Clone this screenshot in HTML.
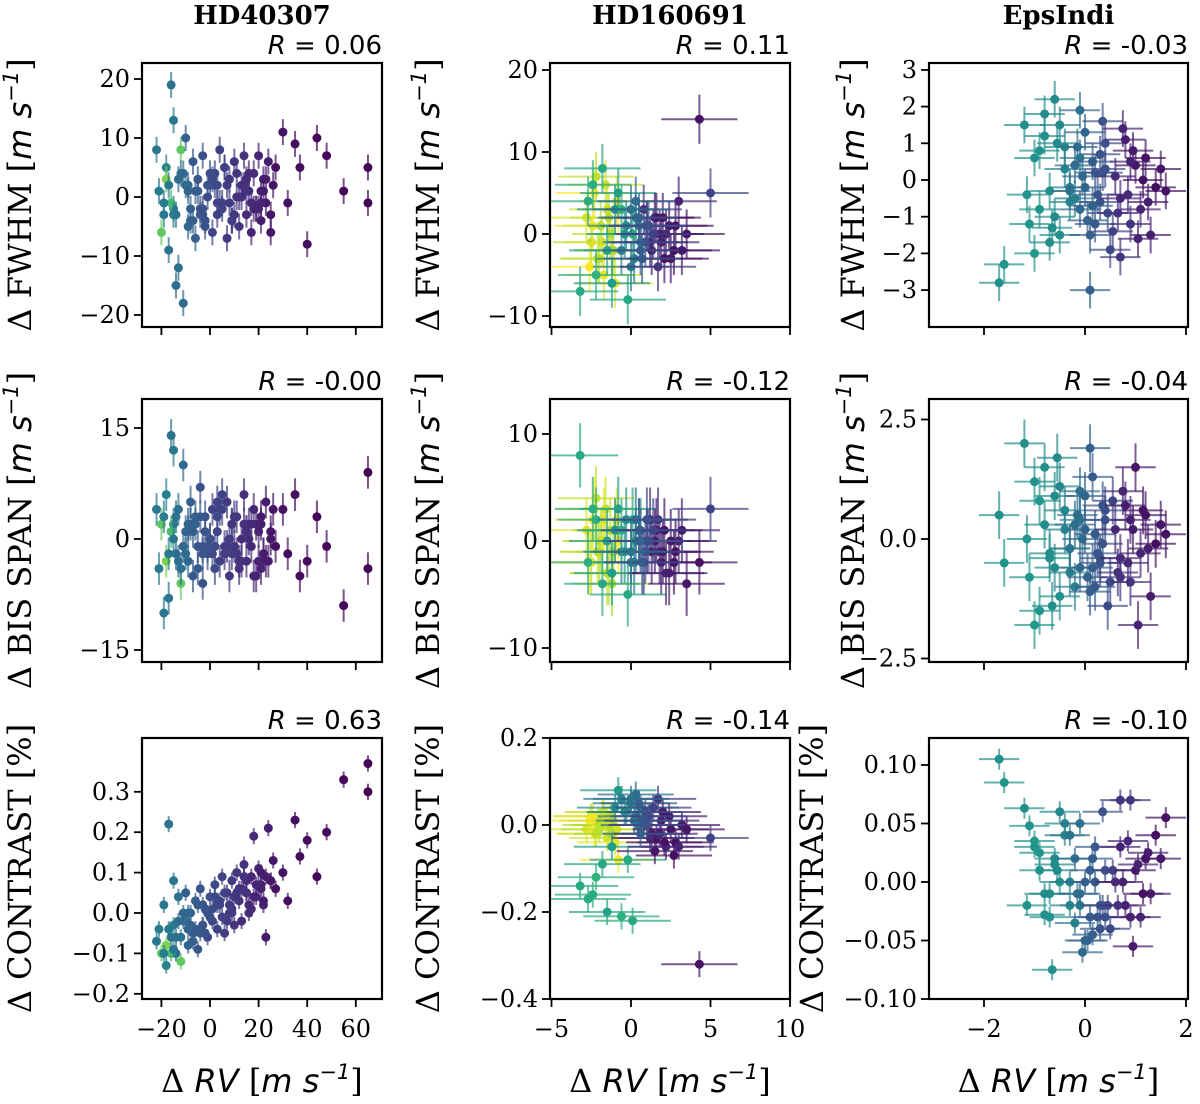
<!DOCTYPE html>
<html><head><meta charset="utf-8">
<style>
html,body{margin:0;padding:0;background:#fff;}
svg{display:block;}
.tk{font-family:"DejaVu Serif","Liberation Serif",serif;font-size:24px;fill:#000;}
.lab{font-family:"DejaVu Serif","Liberation Serif",serif;font-size:32px;fill:#000;}
.mt{font-family:"DejaVu Sans","Liberation Sans",sans-serif;font-style:italic;}
.rl{font-family:"DejaVu Sans","Liberation Sans",sans-serif;font-size:26px;fill:#000;}
.ttl{font-family:"DejaVu Serif","Liberation Serif",serif;font-size:26px;font-weight:bold;fill:#000;}
</style></head>
<body>
<svg id="fig" width="1200" height="1104" viewBox="0 0 1200 1104" xmlns="http://www.w3.org/2000/svg"></svg>
<script>
// ---- HD40307 ----
const A_rv=[-22,-21,-20,-19,-18,-17,-16,-15,-14,-13,-12,-11,-10,-9,-8,-7,-6,-5,-4,-3,-2,-1,0,1,2,3,4,5,6,7,8,9,10,11,12,13,14,15,16,17,18,19,20,21,22,23,24,25,26,27,
-18,-15,-12,-9,-6,-3,0,3,6,9,12,15,18,21,-16,-10,-4,2,8,14,20,30,32,35,37,40,44,48,55,65,65,
-17,-14,-11,-8,-5,-2,1,4,7,10,13,16,19,22,25,-19,-13,-7,-1,5,11,17,23,-15,-9,-3,3,9,15,21];
const A_fwhm=[8,1,-6,-3,5,-9,19,13,-15,-12,8,-18,10,2,-4,6,-7,3,-2,7,-5,0,4,-6,2,-3,8,-1,5,-7,3,-4,6,0,-5,2,7,-3,1,-6,4,-2,7,-4,3,-1,6,-6,2,5,
3,-2,4,-5,1,-3,2,-1,5,-4,0,3,-2,1,-1,2,-3,4,-1,2,-2,11,-1,9,5,-8,10,7,1,5,-1,
2,-3,4,-2,1,-4,3,-1,2,-3,0,4,-2,1,-3,-1,3,-4,2,-2,4,-1,3,-3,1,-2,2,-4,1,-1];
const A_bis=[4,-4,2,-10,6,-8,14,12,-2,4,-6,10,1,-3,5,-5,2,-1,7,-6,3,-2,0,4,-4,1,-3,6,-2,5,-5,2,-1,3,-4,0,6,-3,2,-1,4,-5,1,3,-2,5,-3,0,4,-1,
-3,2,-4,1,3,-2,0,5,-1,2,-3,1,-5,2,1,-2,3,-1,0,2,-3,4,-2,6,-5,-3,3,-1,-9,9,-4,
-2,3,-1,2,-4,1,-2,4,-1,3,-3,0,2,-2,1,3,-3,1,-1,4,-2,2,-3,0,2,-1,3,-2,1,-4];
const A_con=[-0.07,-0.04,-0.1,0.02,-0.13,0.22,-0.06,0.08,-0.1,0.04,-0.12,-0.02,0.05,-0.08,0.0,-0.05,0.03,-0.09,0.06,-0.03,0.01,-0.06,0.04,-0.02,0.07,-0.04,0.02,0.09,-0.05,0.05,0.0,0.08,-0.03,0.1,0.03,-0.02,0.12,0.05,0.0,0.09,0.19,0.04,0.11,0.07,0.02,-0.06,0.21,0.08,0.13,0.06,
-0.08,-0.03,-0.06,0.0,-0.04,0.02,-0.01,0.03,0.05,0.01,0.06,0.08,0.04,0.1,-0.1,-0.02,-0.05,0.04,0.02,0.09,0.07,0.1,0.03,0.23,0.14,0.18,0.09,0.2,0.33,0.37,0.3,
-0.04,-0.06,0.0,-0.03,0.02,-0.05,0.01,0.03,-0.02,0.04,0.06,0.02,0.07,0.03,0.08,-0.1,-0.02,-0.07,0.0,-0.01,0.05,0.01,0.09,-0.09,-0.04,-0.03,0.02,0.0,0.05,0.06];
const A_c=[0.4,0.42,0.75,0.4,0.45,0.38,0.38,0.4,0.35,0.36,0.75,0.35,0.3,0.33,0.3,0.28,0.3,0.27,0.25,0.26,0.25,0.22,0.24,0.2,0.22,0.2,0.19,0.2,0.18,0.17,0.16,0.17,0.15,0.16,0.15,0.13,0.14,0.12,0.13,0.1,0.12,0.1,0.1,0.08,0.09,0.07,0.08,0.06,0.06,0.05,
0.8,0.42,0.38,0.33,0.3,0.26,0.24,0.2,0.19,0.16,0.14,0.12,0.1,0.08,0.7,0.36,0.28,0.22,0.18,0.14,0.1,0.05,0.04,0.04,0.03,0.03,0.02,0.02,0.02,0.01,0.01,
0.4,0.37,0.33,0.3,0.28,0.25,0.23,0.2,0.18,0.16,0.14,0.12,0.1,0.08,0.06,0.42,0.35,0.3,0.25,0.2,0.16,0.12,0.08,0.4,0.32,0.26,0.22,0.18,0.14,0.1];
// ---- HD160691 ----
const B_rv=[-2.8,-2.5,-2.3,-2.1,-1.9,-1.7,-1.5,-1.3,-1.1,-0.9,-2.6,-2.2,-1.8,-1.4,-1.0,-2.4,-2.0,-1.6,-1.2,-0.8,
-1.0,-0.6,-0.3,0.0,0.3,0.6,-0.8,-0.4,0.2,0.5,-3.2,-2.7,-2.2,-1.8,-1.5,-2.4,-1.2,-0.6,-0.2,0.1,
1.0,1.3,1.6,1.9,2.2,2.5,2.8,3.2,0.8,1.2,1.5,1.8,2.1,2.4,2.7,3.0,3.5,1.7,2.0,4.3,
0.5,0.9,1.1,0.3,0.7,1.4,0.0,0.6,1.0,5.0];
const B_fwhm=[2,-1,5,-3,1,-5,3,0,-2,4,-4,7,-1,2,-6,1,-3,6,-2,3,
3,-2,1,-4,2,-1,5,0,-3,1,-7,4,-5,8,-2,6,-6,3,-8,0,
1,-2,2,-1,0,-3,1,-2,3,-1,2,0,-3,1,-2,4,0,-4,2,14,
2,-1,1,4,-3,0,3,-2,1,5];
const B_bis=[1,-2,3,-1,0,2,-3,1,-1,2,-2,4,0,-3,1,2,-1,3,-4,0,
1,-1,2,-2,0,1,3,-1,-2,1,8,-2,2,-4,0,3,-3,1,-5,2,
0,-1,1,-2,-3,0,-1,1,-2,2,0,-1,1,-3,-2,0,-4,2,-1,-2,
1,-1,0,2,-2,1,-1,0,2,3];
const B_con=[-0.01,0.02,-0.02,0.01,0.0,0.03,-0.03,0.02,0.0,-0.01,0.01,-0.02,0.03,0.0,-0.04,0.02,-0.01,0.01,-0.02,-0.08,
0.04,0.06,0.03,0.05,0.02,0.04,0.08,0.03,0.01,0.0,-0.14,-0.17,-0.12,-0.09,-0.2,-0.16,-0.05,-0.21,-0.08,-0.22,
0.0,-0.02,-0.03,0.01,-0.05,-0.01,-0.04,0.0,0.01,-0.03,-0.06,-0.02,-0.04,0.02,-0.07,-0.05,-0.01,0.06,0.03,-0.32,
0.05,0.03,0.02,0.07,0.01,0.04,0.06,-0.02,0.0,-0.03];
const B_c=[0.95,0.9,1,0.92,0.88,0.97,0.93,0.9,0.86,0.95,1,0.91,0.94,0.89,0.96,0.98,0.9,0.93,0.87,1,
0.5,0.45,0.48,0.42,0.4,0.45,0.55,0.5,0.42,0.4,0.6,0.62,0.65,0.6,0.58,0.62,0.55,0.63,0.6,0.6,
0.1,0.08,0.05,0.1,0.12,0.06,0.04,0.08,0.15,0.12,0.06,0.1,0.05,0.08,0.04,0.1,0.06,0.15,0.07,0.05,
0.3,0.25,0.22,0.35,0.28,0.2,0.38,0.3,0.25,0.2];
// ---- EpsIndi ----
const C_rv=[-1.7,-1.6,-1.2,-1.1,-1.0,-0.9,-0.8,-0.7,-0.6,-0.5,-0.4,-0.3,-1.0,-0.8,-0.6,-0.4,-0.2,-0.9,-0.7,-0.5,-0.3,-0.1,-0.65,-1.15,-0.55,
-0.2,-0.1,0.0,0.1,0.2,0.3,0.4,0.5,-0.3,-0.15,0.05,0.15,0.25,0.35,0.45,-0.05,0.1,0.3,0.0,0.2,0.4,-0.1,0.15,0.35,0.55,
0.6,0.7,0.8,0.9,1.0,1.1,1.2,1.3,1.4,1.5,0.65,0.75,0.85,0.95,1.05,1.15,1.25,0.7,0.9,1.6];
const C_fwhm=[-2.8,-2.3,1.5,-1.2,0.6,-0.8,1.8,-0.3,2.2,-1.5,0.9,-0.6,-2.0,1.2,-1.0,0.3,-0.5,0.8,-1.7,1.5,-0.2,0.6,-1.3,-0.4,1.0,
0.4,-0.8,1.3,-1.5,0.2,-0.6,1.0,-1.9,-0.3,0.9,-1.1,0.5,-0.4,1.6,-0.9,0.1,-3.0,0.7,-0.2,-1.2,0.3,1.9,-0.7,0.2,-1.4,
0.1,-0.5,1.1,-1.2,0.4,-0.8,0.6,-1.5,-0.2,0.3,-0.9,1.4,-0.4,0.8,-1.6,0.0,-0.6,-2.1,0.5,-0.3];
const C_bis=[0.5,-0.5,2.0,-0.8,1.2,-1.5,0.3,-0.4,0.9,-1.2,0.6,-0.2,-1.8,1.5,-0.6,0.2,-1.0,0.8,-0.3,1.1,-0.7,0.4,-1.4,0.0,1.7,
0.3,-0.6,0.9,-1.1,0.1,-0.4,0.6,-0.9,-0.2,0.5,-0.8,1.3,-0.3,0.7,-1.4,0.0,1.9,-0.5,0.2,-1.0,0.4,1.0,-0.6,-0.1,0.8,
0.2,-0.4,0.7,-0.9,1.5,-0.3,0.5,-1.2,-0.1,0.3,-0.7,1.0,-0.5,0.2,-1.8,0.6,-0.2,-0.8,0.4,0.1];
const C_con=[0.105,0.085,0.063,0.048,0.03,0.01,-0.01,-0.03,0.02,0.0,0.04,-0.02,0.035,-0.028,0.015,0.05,-0.035,0.025,-0.01,0.06,0.0,-0.02,-0.075,-0.02,0.01,
0.02,-0.01,0.0,-0.03,0.03,-0.02,0.01,-0.04,0.04,-0.01,-0.05,0.02,-0.03,0.06,-0.02,-0.06,0.01,-0.04,-0.05,0.0,-0.03,0.05,-0.045,-0.02,0.01,
0.0,0.03,-0.02,0.07,0.01,-0.03,0.02,-0.01,0.04,0.02,-0.02,0.0,0.035,-0.055,0.015,-0.01,0.025,0.07,-0.03,0.055];
const C_c=[0.5,0.52,0.5,0.52,0.5,0.52,0.48,0.5,0.48,0.5,0.46,0.47,0.53,0.5,0.48,0.46,0.43,0.52,0.49,0.47,0.44,0.41,0.5,0.52,0.48,
0.36,0.34,0.32,0.3,0.28,0.26,0.24,0.22,0.38,0.35,0.31,0.29,0.27,0.25,0.23,0.34,0.3,0.26,0.32,0.28,0.24,0.36,0.3,0.25,0.2,
0.12,0.1,0.08,0.15,0.06,0.1,0.05,0.08,0.04,0.06,0.14,0.1,0.12,0.07,0.1,0.05,0.08,0.15,0.09,0.05];
const titles=["HD40307","HD160691","EpsIndi"];
const rVals=[["0.06","-0.00","0.63"],["0.11","-0.12","-0.14"],["-0.03","-0.04","-0.10"]];
const xTicks=[[-20,0,20,40,60],[-5,0,5,10],[-2,0,2]];
const yTicks=[[[20,10,0,-10,-20],[15,0,-15],[0.3,0.2,0.1,0.0,-0.1,-0.2]],
              [[20,10,0,-10],[10,0,-10],[0.2,0.0,-0.2,-0.4]],
              [[3,2,1,0,-1,-2,-3],[2.5,0.0,-2.5],[0.10,0.05,0.00,-0.05,-0.10]]];
const yTickFmt=[[0,0,1],[0,0,1],[0,1,2]];

const NS="http://www.w3.org/2000/svg";
const svg=document.getElementById('fig');
function el(t,a,p){const e=document.createElementNS(NS,t);for(const k in a)e.setAttribute(k,a[k]);(p||svg).appendChild(e);return e;}
const VIR=[[68,1,84],[72,40,120],[62,74,137],[49,104,142],[38,130,142],[31,158,137],[53,183,121],[110,206,88],[181,222,43],[253,231,37]];
function vir(t){t=Math.max(0,Math.min(1,t))*(VIR.length-1);const i=Math.min(VIR.length-2,Math.floor(t)),f=t-i;const a=VIR[i],b=VIR[i+1];return `rgb(${Math.round(a[0]+(b[0]-a[0])*f)},${Math.round(a[1]+(b[1]-a[1])*f)},${Math.round(a[2]+(b[2]-a[2])*f)})`;}

const cols=[{x0:142,x1:382,c:210,s:2.43,rv:A_rv,ys:[A_fwhm,A_bis,A_con],col:A_c,ex:0,ey:[2.2,2.2,0.02],lx:[20,20,20]},
            {x0:550,x1:790,c:631,s:15.9,rv:B_rv,ys:[B_fwhm,B_bis,B_con],col:B_c,ex:2.4,ey:[3,3,0.03],lx:428,lx:[428,428,428]},
            {x0:929,x1:1188,c:1085,s:50.5,rv:C_rv,ys:[C_fwhm,C_bis,C_con],col:C_c,ex:0.4,ey:[0.5,0.5,0.009],lx:[853,853,812]}];
const rows=[{y0:63,y1:327},{y0:399,y1:662},{y0:738,y1:999}];
const ymaps=[[{c:197,s:5.9},{c:539,s:7.4},{c:913,s:404}],
             [{c:234,s:8.2},{c:541,s:10.7},{c:825,s:435}],
             [{c:180,s:36.7},{c:539,s:47.8},{c:882,s:1170}]];
const ylabels=["FWHM","BIS SPAN","CONTRAST"];

cols.forEach((C,ci)=>{
  const xs=v=>C.c+v*C.s;
  const t=el('text',{x:(C.x0+C.x1)/2,y:24,'text-anchor':'middle',class:'ttl'});
  
  
  t.textContent=titles[ci];
  rows.forEach((R,ri)=>{
    const ym=ymaps[ci][ri];const ys=v=>ym.c-v*ym.s;
    const g=el('g',{});
    
    
    const clipId='cl'+ci+ri;
    const cp=el('clipPath',{id:clipId},g);el('rect',{x:C.x0,y:R.y0,width:C.x1-C.x0,height:R.y1-R.y0},cp);
    const pts=el('g',{'clip-path':`url(#${clipId})`},g);
    const yv=C.ys[ri];
    C.rv.forEach((rv,i)=>{
      const px=xs(rv),py=ys(yv[i]),col=vir(C.col[i]);
      const eg=el('g',{stroke:col,'stroke-width':2,opacity:0.7},pts);
      
      
      if(C.ex>0) el('line',{x1:xs(rv-C.ex),x2:xs(rv+C.ex),y1:py,y2:py},eg);
      el('line',{x1:px,x2:px,y1:ys(yv[i]-C.ey[ri]),y2:ys(yv[i]+C.ey[ri])},eg);
      const d=el('circle',{cx:px,cy:py,r:4.5,fill:col},pts);
      
      
    });
    const fr=el('rect',{x:C.x0,y:R.y0,width:C.x1-C.x0,height:R.y1-R.y0,fill:'none',stroke:'#000','stroke-width':2.2},g);
    
    
    xTicks[ci].forEach(v=>{
      const px=xs(v);
      el('line',{x1:px,x2:px,y1:R.y1,y2:R.y1+8,stroke:'#000','stroke-width':1.8},g);
      if(ri===2){const tl=el('text',{x:px,y:R.y1+38,'text-anchor':'middle',class:'tk'},g);
        
        
        tl.textContent=(v<0?'\u2212'+(-v):String(v));}
    });
    yTicks[ci][ri].forEach(v=>{
      const py=ys(v);
      el('line',{x1:C.x0-8,x2:C.x0,y1:py,y2:py,stroke:'#000','stroke-width':1.8},g);
      const s=v.toFixed(yTickFmt[ci][ri]);
      const tl=el('text',{x:C.x0-12,y:py+8,'text-anchor':'end',class:'tk'},g);
      
      
      tl.textContent=(v<0?'\u2212'+s.slice(1):s);
    });
    const rl=el('text',{x:C.x1,y:R.y0-9,'text-anchor':'end',class:'rl'},g);
    
    
    rl.innerHTML='<tspan font-style="italic">R</tspan> = '+rVals[ci][ri];
    const cy=(R.y0+R.y1)/2;const lx=C.lx[ri];
    const yl=el('text',{x:lx,y:cy,'text-anchor':'middle',class:'lab',transform:`rotate(-90 ${lx} ${cy}) translate(0 11)`},g);
    
    
    yl.innerHTML= ri<2 ? 'Δ '+ylabels[ri]+' [<tspan class="mt">m s</tspan><tspan font-size="21" dy="-13" class="mt" font-style="normal">−1</tspan><tspan dy="13">]</tspan>' : 'Δ CONTRAST [%]';
  });
  const xl=el('text',{x:(C.x0+C.x1)/2,y:1092,'text-anchor':'middle',class:'lab'});
  
  
  xl.innerHTML='Δ <tspan class="mt">RV</tspan> [<tspan class="mt">m s</tspan><tspan font-size="21" dy="-13" class="mt" font-style="normal">−1</tspan><tspan dy="13">]</tspan>';
});
</script>
</body></html>
